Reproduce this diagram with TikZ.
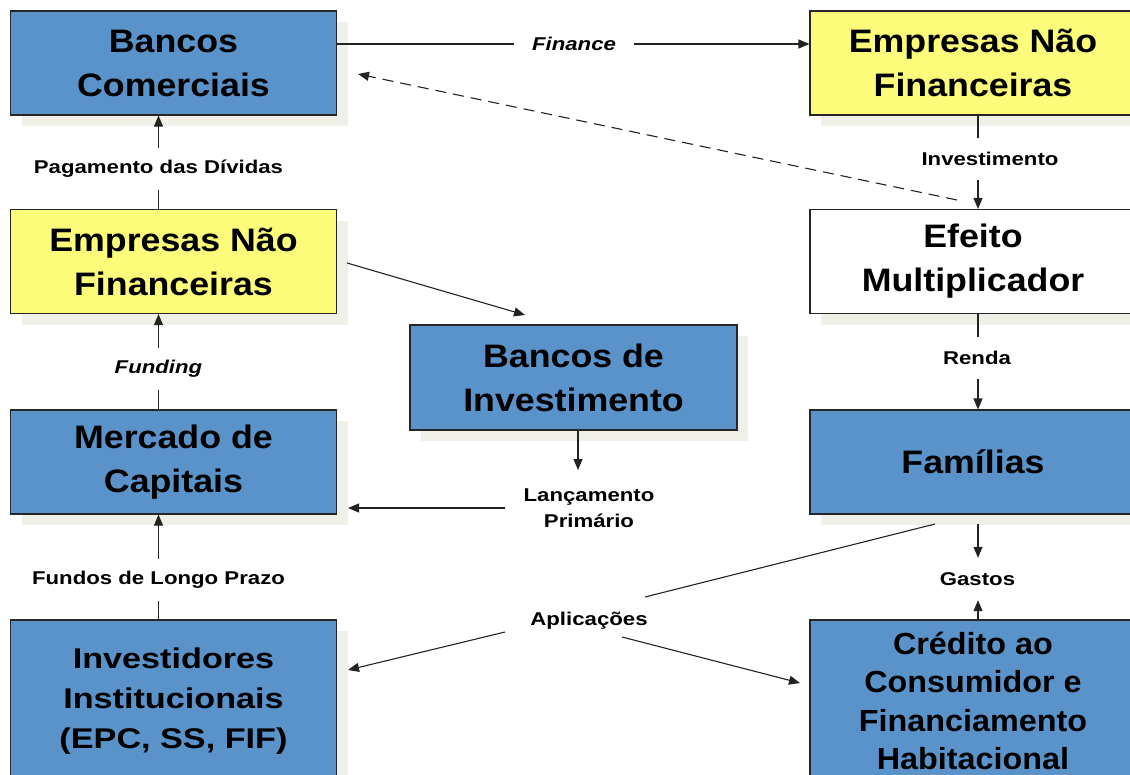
\documentclass[tikz,border=0pt]{standalone}
\usepackage{fontspec}
\setmainfont{Liberation Sans}
\newfontfamily\bigf{Liberation Sans}[FakeStretch=1.1]
\newfontfamily\iif{Liberation Sans}[FakeStretch=1.2]
\newfontfamily\ccf{Liberation Sans}[FakeStretch=1.06]
\newfontfamily\smf{Liberation Sans}[FakeStretch=1.2]
\usetikzlibrary{arrows.meta,shadows,calc}
\definecolor{boxblue}{RGB}{90,146,202}
\definecolor{boxyellow}{RGB}{252,252,122}
\definecolor{shadowgray}{RGB}{240,240,233}
\definecolor{linegray}{RGB}{35,35,35}
\tikzset{
  box/.style={draw=black!85, line width=1.1pt, minimum width=326pt, minimum height=104pt,
    align=center, inner sep=0pt,
    general shadow={fill=shadowgray, draw=none, shadow xshift=11pt, shadow yshift=-11pt}},
  bluebox/.style={box, fill=boxblue},
  yellowbox/.style={box, fill=boxyellow},
  whitebox/.style={box, fill=white},
  bigtext/.style={font=\bigf\bfseries\fontsize{32.5}{44}\selectfont},
  lbl/.style={font=\smf\bfseries\fontsize{18.5}{26}\selectfont, inner xsep=18pt, inner ysep=0pt,
    minimum height=42pt, align=center},
  ilbl/.style={lbl, font=\smf\bfseries\itshape\fontsize{18.5}{26}\selectfont},
  conn/.style={draw=linegray, line width=1.1pt},
  arr/.style={conn, -{Triangle[length=11pt,width=9pt]}}
}
\begin{document}
\begin{tikzpicture}[x=1pt,y=-1pt]
\path[use as bounding box, fill=white] (0,0) rectangle (1130,774);

% boxes
\node[bluebox, bigtext] (bc) at (173.5,63) {Bancos\\Comerciais};
\node[yellowbox, bigtext] (enfR) at (973,63) {Empresas Não\\Financeiras};
\node[yellowbox, bigtext] (enfL) at (173.5,261.5) {Empresas Não\\Financeiras};
\node[whitebox, bigtext] (em) at (973,261.5) {Efeito\\Multiplicador};
\node[bluebox, bigtext, minimum width=327pt, minimum height=105pt] (bi) at (573.5,377.5) {Bancos de\\Investimento};
\node[bluebox, bigtext] (mc) at (173.5,462) {Mercado de\\Capitais};
\node[bluebox, bigtext] (fam) at (973,462) {Famílias};
\node[bluebox, minimum height=162pt, font=\iif\bfseries\fontsize{28.5}{40}\selectfont] (ii) at (173.5,701) {Investidores\\Institucionais\\(EPC, SS, FIF)};
\node[bluebox, minimum height=162pt, font=\ccf\bfseries\fontsize{30.5}{38.5}\selectfont] (cc) at (973,701) {Crédito ao\\Consumidor e\\Financiamento\\Habitacional};

% labels
\node[ilbl] (fin) at (574,44) {Finance};
\node[lbl] (pag) at (158.5,169) {Pagamento das Dívidas};
\node[ilbl] (fund) at (158.5,369) {Funding};
\node[lbl] (flp) at (158.5,580) {Fundos de Longo Prazo};
\node[lbl] (inv) at (990,159) {Investimento};
\node[lbl] (renda) at (977,358) {Renda};
\node[lbl] (gas) at (977.5,579) {Gastos};
\node[lbl] (lanc) at (589,508) {Lançamento\\Primário};
\node[lbl] (apl) at (589,621) {Aplicações};

% helper coordinates
\coordinate (dsA) at (957,200);
\coordinate (dsB) at (358,74);
\coordinate (eb1) at (347,263);
\coordinate (eb2) at (525,315);
\coordinate (rc) at (978,0);
\coordinate (lc) at (578,0);
\coordinate (lt) at (578,470);
\coordinate (mct) at (348,0);
\coordinate (famo) at (978,524);
\coordinate (fa1) at (935,524);
\coordinate (fa2) at (645,597);
\coordinate (fa3) at (505,632);
\coordinate (fa4) at (622,637);
\coordinate (iit) at (348,670);
\coordinate (cct) at (800,683);

% connectors
\draw[conn] (bc.east |- fin) -- (fin.west);
\draw[arr] (fin.east) -- (enfR.west |- fin);
\draw[arr, dash pattern=on 11pt off 7pt] (dsA) -- (dsB);

\draw[conn] (enfL.north -| pag) -- (pag.south);
\draw[arr] (pag.north) -- (bc.south -| pag);
\draw[conn] (mc.north -| fund) -- (fund.south);
\draw[arr] (fund.north) -- (enfL.south -| fund);
\draw[conn] (ii.north -| flp) -- (flp.south);
\draw[arr] (flp.north) -- (mc.south -| flp);

\draw[arr] (eb1) -- (eb2);
\draw[arr] (bi.south -| lc) -- (lt);
\draw[arr] (lanc.west) -- (lanc.west -| mct);

\draw[conn] (enfR.south -| rc) -- (inv.north -| rc);
\draw[arr] (inv.south -| rc) -- (em.north -| rc);
\draw[conn] (em.south -| rc) -- (renda.north -| rc);
\draw[arr] (renda.south -| rc) -- (fam.north -| rc);
\draw[arr] (famo) -- (gas.north -| rc);
\draw[arr] (cc.north -| rc) -- (gas.south -| rc);

\draw[conn] (fa1) -- (fa2);
\draw[arr] (fa3) -- (iit);
\draw[arr] (fa4) -- (cct);
\end{tikzpicture}
\end{document}
